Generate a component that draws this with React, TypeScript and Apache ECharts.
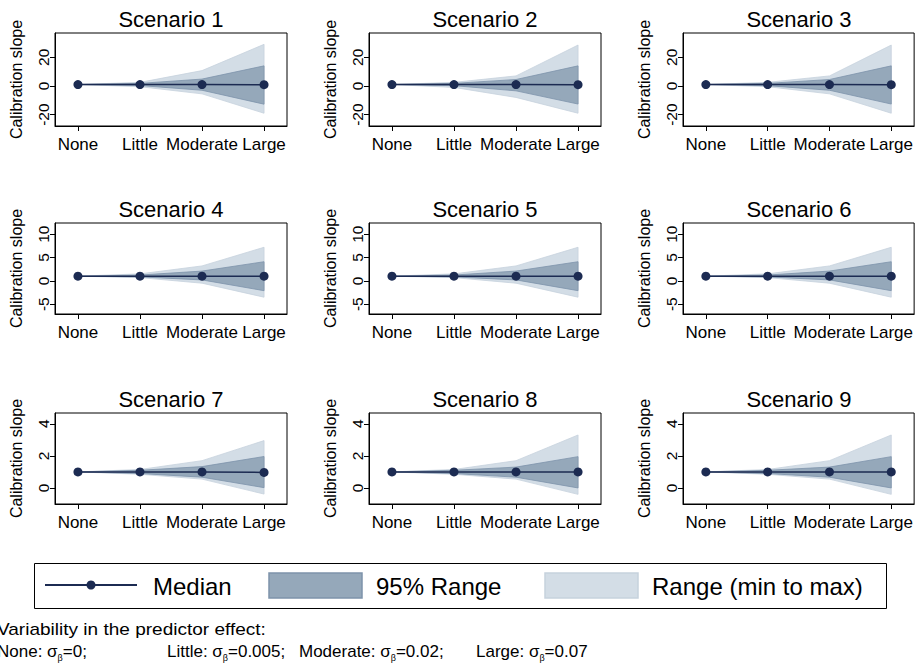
import React, { useEffect, useRef } from "react";
import * as echarts from "echarts";

const FONT = '"Liberation Sans", Arial, Helvetica, sans-serif';

const categories = ["None", "Little", "Moderate", "Large"];
const categoryPositions = [0, 1, 2, 3];
const scenarioTitles = [
  "Scenario 1", "Scenario 2", "Scenario 3",
  "Scenario 4", "Scenario 5", "Scenario 6",
  "Scenario 7", "Scenario 8", "Scenario 9",
];

// per scenario, values at None, Little, Moderate, Large
const medianVals = [
  [1, 1, 1, 0.9], [1, 1, 1, 0.9], [1, 1, 1, 0.9],
  [1, 1, 1, 1], [1, 1, 1, 1], [1, 1, 1, 1],
  [1, 1, 1, 0.97], [1, 1, 1, 1], [1, 1, 1, 1],
];
const lo95Vals = [
  [1, 0.3, -3, -12.7], [1, 0.2, -3.4, -12.6], [1, 0.2, -3, -12.6],
  [1, 0.85, 0.2, -2.1], [1, 0.85, 0.2, -2.1], [1, 0.85, 0.2, -2.1],
  [1, 0.9, 0.67, 0.02], [1, 0.9, 0.67, 0.0], [1, 0.9, 0.67, 0.0],
];
const hi95Vals = [
  [1, 1.8, 4.8, 14], [1, 1.8, 4.5, 14], [1, 1.8, 4.5, 14],
  [1, 1.25, 2.1, 4.1], [1, 1.25, 2.1, 4.1], [1, 1.25, 2.1, 4.1],
  [1, 1.1, 1.33, 1.96], [1, 1.1, 1.3, 1.95], [1, 1.1, 1.3, 1.95],
];
const minVals = [
  [1, -0.5, -5.5, -19], [1, -1, -8, -19], [1, -0.5, -5.5, -19],
  [1, 0.7, -0.5, -3.5], [1, 0.7, -0.5, -3.5], [1, 0.7, -0.5, -3.5],
  [1, 0.85, 0.55, -0.38], [1, 0.85, 0.55, -0.4], [1, 0.85, 0.55, -0.4],
];
const maxVals = [
  [1, 2.5, 10.7, 29], [1, 2.5, 7, 28.5], [1, 2.5, 7, 28.5],
  [1, 1.5, 3.2, 7.2], [1, 1.5, 3.2, 7.2], [1, 1.5, 3.2, 7.2],
  [1, 1.15, 1.7, 2.95], [1, 1.15, 1.7, 3.3], [1, 1.15, 1.7, 3.3],
];

const rowTicks = [[-20, 0, 20], [-5, 0, 5, 10], [0, 2, 4]];
const rowMin = [-27.9, -7.1, -1.0];
const rowMax = [36.9, 12.4, 4.67];

const legendLabels = ["Median", "95% Range", "Range (min to max)"];
const footnoteTitle = "Variability in the predictor effect:";
const footnoteItems = [
  { name: "None", value: "0" },
  { name: "Little", value: "0.005" },
  { name: "Moderate", value: "0.02" },
  { name: "Large", value: "0.07" },
];

const NAVY = "#1c2b52";
const DARK = "#95a8ba";
const DARK_EDGE = "#7d93ab";
const LIGHT = "#d3dde6";
const LIGHT_EDGE = "#c6d2dd";

function bandRenderer(fill: string, stroke: string) {
  return (params: any, api: any) => {
    if (params.dataIndexInside !== 0) return null;
    const n = params.dataInsideLength;
    const upper: number[][] = [];
    const lower: number[][] = [];
    for (let j = 0; j < n; j++) {
      const x = api.value(0, j);
      upper.push(api.coord([x, api.value(2, j)]));
      lower.push(api.coord([x, api.value(1, j)]));
    }
    const points = upper.concat(lower.reverse());
    return {
      type: "polygon",
      shape: { points },
      style: { fill, stroke, lineWidth: 0.8 },
      silent: true,
    };
  };
}

export default function App() {
  const ref = useRef<HTMLDivElement>(null);
  useEffect(() => {
    document.body.style.margin = "0";
    const chart = echarts.init(ref.current!, null, { renderer: "svg" });

    const colLeft = [55, 369, 683];
    const rowTop = [33, 223, 413];
    const rowHeight = [93, 91, 91];
    const gridW = 232;

    const grids: any[] = [];
    const xAxes: any[] = [];
    const yAxes: any[] = [];
    const series: any[] = [];
    const graphics: any[] = [];

    scenarioTitles.forEach((title, i) => {
      const r = Math.floor(i / 3);
      const c = i % 3;
      grids.push({
        left: colLeft[c],
        top: rowTop[r],
        width: gridW,
        height: rowHeight[r],
        show: true,
        borderColor: "#000",
        borderWidth: 1,
        backgroundColor: "#fff",
        containLabel: false,
      });
      xAxes.push({
        type: "value",
        gridIndex: i,
        min: -0.37,
        max: 3.37,
        splitLine: { show: false },
        axisLine: { show: true, onZero: false, lineStyle: { color: "#000", width: 1 } },
        axisTick: { show: true, customValues: categoryPositions, length: 5, lineStyle: { color: "#000" } },
        axisLabel: {
          customValues: categoryPositions,
          formatter: (v: number) => categories[Math.round(v)],
          fontFamily: FONT,
          fontSize: 17,
          color: "#000",
          margin: 10,
        },
      });
      yAxes.push({
        type: "value",
        gridIndex: i,
        min: rowMin[r],
        max: rowMax[r],
        splitLine: { show: false },
        axisLine: { show: true, onZero: false, lineStyle: { color: "#000", width: 1 } },
        axisTick: { show: true, customValues: rowTicks[r], length: 5, lineStyle: { color: "#000" } },
        axisLabel: {
          customValues: rowTicks[r],
          rotate: 90,
          fontFamily: FONT,
          fontSize: 15.5,
          color: "#000",
          margin: 4,
        },
        name: "Calibration slope",
        nameLocation: "middle",
        nameRotate: 90,
        nameGap: 31,
        nameTextStyle: { fontFamily: FONT, fontSize: 16, color: "#000" },
      });

      series.push({
        type: "custom",
        xAxisIndex: i,
        yAxisIndex: i,
        silent: true,
        renderItem: bandRenderer(LIGHT, LIGHT_EDGE),
        encode: { x: 0, y: [1, 2] },
        data: categoryPositions.map((x, k) => [x, minVals[i][k], maxVals[i][k]]),
        z: 1,
      });
      series.push({
        type: "custom",
        xAxisIndex: i,
        yAxisIndex: i,
        silent: true,
        renderItem: bandRenderer(DARK, DARK_EDGE),
        encode: { x: 0, y: [1, 2] },
        data: categoryPositions.map((x, k) => [x, lo95Vals[i][k], hi95Vals[i][k]]),
        z: 2,
      });
      series.push({
        type: "line",
        xAxisIndex: i,
        yAxisIndex: i,
        silent: true,
        data: medianVals[i].map((v, k) => [categoryPositions[k], v]),
        symbol: "circle",
        symbolSize: 9,
        itemStyle: { color: NAVY },
        lineStyle: { color: NAVY, width: 1.5 },
        z: 5,
      });

      graphics.push({
        type: "text",
        x: colLeft[c] + gridW / 2,
        y: rowTop[r] - 14,
        style: {
          text: title,
          fontFamily: FONT,
          fontSize: 22,
          fill: "#000",
          align: "center",
          verticalAlign: "middle",
        },
      });
    });

    // legend
    const ly = 585;
    graphics.push(
      { type: "rect", shape: { x: 34.5, y: 563.5, width: 852, height: 45 }, style: { fill: "#fff", stroke: "#000", lineWidth: 1 } },
      { type: "line", shape: { x1: 45, y1: ly, x2: 137, y2: ly }, style: { stroke: NAVY, lineWidth: 2 } },
      { type: "circle", shape: { cx: 91, cy: ly, r: 4.5 }, style: { fill: NAVY } },
      { type: "text", x: 153, y: ly + 1, style: { text: legendLabels[0], fontFamily: FONT, fontSize: 24, fill: "#000", verticalAlign: "middle" } },
      { type: "rect", shape: { x: 269, y: 573, width: 93, height: 25 }, style: { fill: DARK, stroke: DARK_EDGE, lineWidth: 1.5 } },
      { type: "text", x: 376, y: ly + 1, style: { text: legendLabels[1], fontFamily: FONT, fontSize: 24, fill: "#000", verticalAlign: "middle" } },
      { type: "rect", shape: { x: 545, y: 573, width: 93, height: 25 }, style: { fill: LIGHT, stroke: LIGHT_EDGE, lineWidth: 1.5 } },
      { type: "text", x: 652, y: ly + 1, style: { text: legendLabels[2], fontFamily: FONT, fontSize: 24, fill: "#000", verticalAlign: "middle" } }
    );

    // footnote
    graphics.push({
      type: "text",
      x: -3,
      y: 629,
      scaleX: 1.12,
      style: { text: footnoteTitle, fontFamily: FONT, fontSize: 17, fill: "#000", verticalAlign: "middle" },
    });
    const fx = [-3, 167, 299, 476];
    footnoteItems.forEach((it, k) => {
      graphics.push({
        type: "text",
        x: fx[k],
        y: 651,
        style: {
          text: `{t|${it.name}: σ}{s|β}{t|=${it.value}${k < footnoteItems.length - 1 ? ";" : ""}}`,
          verticalAlign: "middle",
          rich: {
            t: { fontFamily: FONT, fontSize: 17, fill: "#000", lineHeight: 22, verticalAlign: "middle" },
            s: { fontFamily: FONT, fontSize: 9, fill: "#000", lineHeight: 22, verticalAlign: "bottom" },
          },
        },
      });
    });

    chart.setOption({
      animation: false,
      backgroundColor: "#fff",
      grid: grids,
      xAxis: xAxes,
      yAxis: yAxes,
      series,
      graphic: graphics,
    });
    return () => chart.dispose();
  }, []);
  return <div ref={ref} style={{ width: 916, height: 663 }} />;
}
